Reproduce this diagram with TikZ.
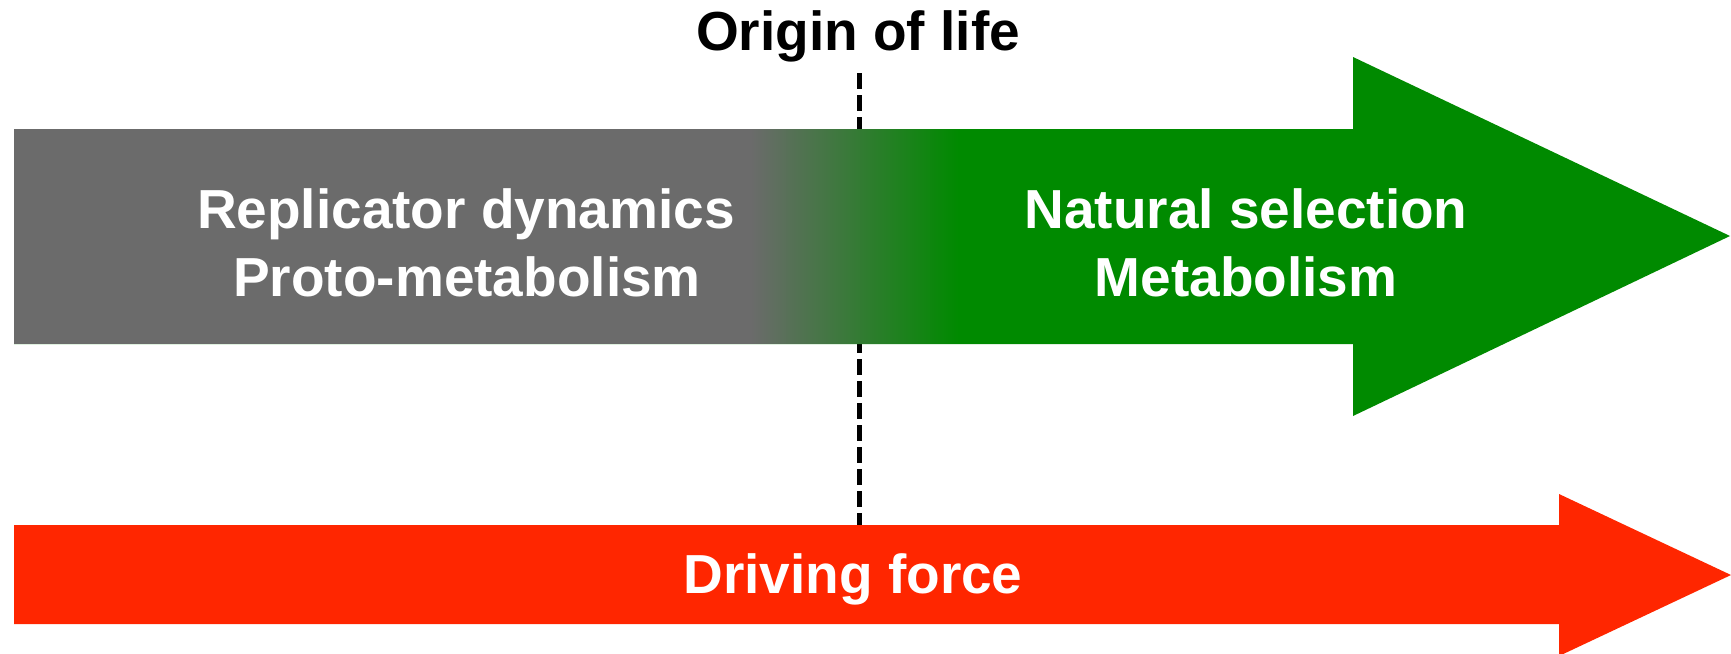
\documentclass[tikz,border=0pt]{standalone}
\usepackage{fontspec}
\setmainfont{Liberation Sans}
\definecolor{stagegray}{HTML}{6B6B6B}
\definecolor{lifegreen}{HTML}{008A00}
\definecolor{forcered}{HTML}{FF2600}
\begin{document}
\begin{tikzpicture}[x=1pt,y=-1pt,
  label text/.style={font=\fontsize{55}{68}\selectfont\bfseries, inner sep=0pt, anchor=base},
  inner text/.style={label text, text=white},
  origin line/.style={line width=5pt, dash pattern=on 16pt off 6pt}]
\useasboundingbox (0,0) rectangle (1731,653);

% origin marker, drawn under the arrows
\coordinate (lineTop) at (859,73);
\coordinate (lineBot) at (859,526);
\draw[origin line] (lineTop) -- (lineBot);

% upper arrow: green shape, grey start, blended transition in thin strips
\fill[lifegreen] (14,129) -- (1353,129) -- (1353,57) -- (1730,236)
  -- (1353,416) -- (1353,344) -- (14,344) -- cycle;
\fill[stagegray] (14,129) rectangle (751,344);
\foreach \i in {0,...,104}{
  \pgfmathsetmacro\mixp{100-\i*100/104}
  \fill[stagegray!\mixp!lifegreen] (750+2*\i,129) rectangle (752.6+2*\i,344);
}

% lower arrow
\fill[forcered] (14,525) -- (1559,525) -- (1559,494) -- (1731,575)
  -- (1559,656) -- (1559,624) -- (14,624) -- cycle;

% labels
\node[label text] (origin) at (858,50) {Origin of life};
\node[inner text] (repl) at (466,228) {Replicator dynamics};
\node[inner text] (proto) at (467,296) {Proto-metabolism};
\node[inner text] (natsel) at (1246,228) {Natural selection};
\node[inner text] (metab) at (1246,296) {Metabolism};
\node[inner text] (force) at (853,593) {Driving force};
\end{tikzpicture}
\end{document}
